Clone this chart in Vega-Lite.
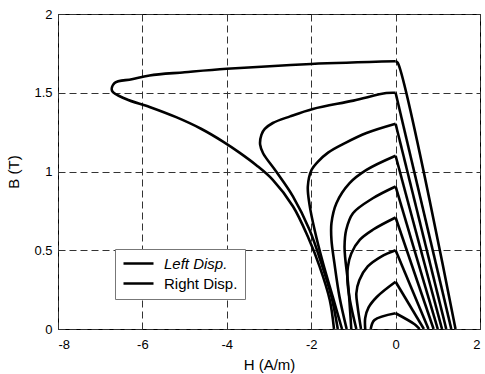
{
  "$schema": "https://vega.github.io/schema/vega-lite/v6.json",
  "width": 422,
  "height": 315,
  "autosize": "none",
  "padding": {"left": 58, "top": 14, "right": 5, "bottom": 45},
  "background": "white",
  "config": {
    "font": "Liberation Sans",
    "view": {"stroke": "black", "strokeWidth": 1},
    "axis": {
      "domain": false,
      "ticks": false,
      "grid": true,
      "gridColor": "#333333",
      "gridDash": [7, 4],
      "gridWidth": 1,
      "gridOpacity": 1,
      "labelFont": "Liberation Sans",
      "labelFontSize": 13,
      "labelColor": "black",
      "titleFont": "Liberation Sans",
      "titleFontSize": 15,
      "titleFontWeight": "normal",
      "titleColor": "black"
    }
  },
  "data": {
    "values": [
      {"c": 1, "s": "Left Disp.", "o": 1, "h": -0.59, "b": 0},
      {"c": 1, "s": "Left Disp.", "o": 2, "h": -0.5, "b": 0.057},
      {"c": 1, "s": "Left Disp.", "o": 3, "h": 0, "b": 0.1},
      {"c": 1, "s": "Right Disp.", "o": 1, "h": 0, "b": 0.1},
      {"c": 1, "s": "Right Disp.", "o": 2, "h": 0.45, "b": 0.03},
      {"c": 1, "s": "Right Disp.", "o": 3, "h": 0.57, "b": 0},

      {"c": 3, "s": "Left Disp.", "o": 1, "h": -0.72, "b": 0},
      {"c": 3, "s": "Left Disp.", "o": 2, "h": -0.72, "b": 0.07},
      {"c": 3, "s": "Left Disp.", "o": 3, "h": -0.64, "b": 0.137},
      {"c": 3, "s": "Left Disp.", "o": 4, "h": -0.44, "b": 0.205},
      {"c": 3, "s": "Left Disp.", "o": 5, "h": 0, "b": 0.3},
      {"c": 3, "s": "Right Disp.", "o": 1, "h": 0, "b": 0.3},
      {"c": 3, "s": "Right Disp.", "o": 2, "h": 0.67, "b": 0},

      {"c": 5, "s": "Left Disp.", "o": 1, "h": -0.82, "b": 0},
      {"c": 5, "s": "Left Disp.", "o": 2, "h": -0.9, "b": 0.142},
      {"c": 5, "s": "Left Disp.", "o": 3, "h": -0.93, "b": 0.227},
      {"c": 5, "s": "Left Disp.", "o": 4, "h": -0.86, "b": 0.31},
      {"c": 5, "s": "Left Disp.", "o": 5, "h": -0.66, "b": 0.397},
      {"c": 5, "s": "Left Disp.", "o": 6, "h": -0.34, "b": 0.46},
      {"c": 5, "s": "Left Disp.", "o": 7, "h": 0, "b": 0.5},
      {"c": 5, "s": "Right Disp.", "o": 1, "h": 0, "b": 0.5},
      {"c": 5, "s": "Right Disp.", "o": 2, "h": 0.78, "b": 0},

      {"c": 7, "s": "Left Disp.", "o": 1, "h": -0.93, "b": 0},
      {"c": 7, "s": "Left Disp.", "o": 2, "h": -1.08, "b": 0.18},
      {"c": 7, "s": "Left Disp.", "o": 3, "h": -1.14, "b": 0.3},
      {"c": 7, "s": "Left Disp.", "o": 4, "h": -1.13, "b": 0.396},
      {"c": 7, "s": "Left Disp.", "o": 5, "h": -1.05, "b": 0.48},
      {"c": 7, "s": "Left Disp.", "o": 6, "h": -0.85, "b": 0.566},
      {"c": 7, "s": "Left Disp.", "o": 7, "h": -0.54, "b": 0.63},
      {"c": 7, "s": "Left Disp.", "o": 8, "h": 0, "b": 0.708},
      {"c": 7, "s": "Right Disp.", "o": 1, "h": 0, "b": 0.708},
      {"c": 7, "s": "Right Disp.", "o": 2, "h": 0.9, "b": 0},

      {"c": 9, "s": "Left Disp.", "o": 1, "h": -1.05, "b": 0},
      {"c": 9, "s": "Left Disp.", "o": 2, "h": -1.13, "b": 0.3},
      {"c": 9, "s": "Left Disp.", "o": 3, "h": -1.19, "b": 0.44},
      {"c": 9, "s": "Left Disp.", "o": 4, "h": -1.21, "b": 0.523},
      {"c": 9, "s": "Left Disp.", "o": 5, "h": -1.17, "b": 0.63},
      {"c": 9, "s": "Left Disp.", "o": 6, "h": -1.01, "b": 0.735},
      {"c": 9, "s": "Left Disp.", "o": 7, "h": -0.54, "b": 0.83},
      {"c": 9, "s": "Left Disp.", "o": 8, "h": 0, "b": 0.905},
      {"c": 9, "s": "Right Disp.", "o": 1, "h": 0, "b": 0.905},
      {"c": 9, "s": "Right Disp.", "o": 2, "h": 1.0, "b": 0},

      {"c": 11, "s": "Left Disp.", "o": 1, "h": -1.16, "b": 0},
      {"c": 11, "s": "Left Disp.", "o": 2, "h": -1.33, "b": 0.205},
      {"c": 11, "s": "Left Disp.", "o": 3, "h": -1.45, "b": 0.418},
      {"c": 11, "s": "Left Disp.", "o": 4, "h": -1.52, "b": 0.566},
      {"c": 11, "s": "Left Disp.", "o": 5, "h": -1.52, "b": 0.672},
      {"c": 11, "s": "Left Disp.", "o": 6, "h": -1.4, "b": 0.8},
      {"c": 11, "s": "Left Disp.", "o": 7, "h": -1.09, "b": 0.926},
      {"c": 11, "s": "Left Disp.", "o": 8, "h": -0.69, "b": 1.01},
      {"c": 11, "s": "Left Disp.", "o": 9, "h": 0, "b": 1.1},
      {"c": 11, "s": "Right Disp.", "o": 1, "h": 0, "b": 1.1},
      {"c": 11, "s": "Right Disp.", "o": 2, "h": 1.1, "b": 0},

      {"c": 13, "s": "Left Disp.", "o": 1, "h": -1.27, "b": 0},
      {"c": 13, "s": "Left Disp.", "o": 2, "h": -1.49, "b": 0.205},
      {"c": 13, "s": "Left Disp.", "o": 3, "h": -1.72, "b": 0.418},
      {"c": 13, "s": "Left Disp.", "o": 4, "h": -1.92, "b": 0.63},
      {"c": 13, "s": "Left Disp.", "o": 5, "h": -2.04, "b": 0.79},
      {"c": 13, "s": "Left Disp.", "o": 6, "h": -2.08, "b": 0.905},
      {"c": 13, "s": "Left Disp.", "o": 7, "h": -1.99, "b": 1.011},
      {"c": 13, "s": "Left Disp.", "o": 8, "h": -1.85, "b": 1.06},
      {"c": 13, "s": "Left Disp.", "o": 9, "h": -1.6, "b": 1.12},
      {"c": 13, "s": "Left Disp.", "o": 10, "h": -1.2, "b": 1.18},
      {"c": 13, "s": "Left Disp.", "o": 11, "h": -0.69, "b": 1.244},
      {"c": 13, "s": "Left Disp.", "o": 12, "h": 0, "b": 1.303},
      {"c": 13, "s": "Right Disp.", "o": 1, "h": 0, "b": 1.303},
      {"c": 13, "s": "Right Disp.", "o": 2, "h": 1.2, "b": 0},

      {"c": 15, "s": "Left Disp.", "o": 1, "h": -1.37, "b": 0},
      {"c": 15, "s": "Left Disp.", "o": 2, "h": -1.52, "b": 0.205},
      {"c": 15, "s": "Left Disp.", "o": 3, "h": -1.76, "b": 0.418},
      {"c": 15, "s": "Left Disp.", "o": 4, "h": -2.04, "b": 0.63},
      {"c": 15, "s": "Left Disp.", "o": 5, "h": -2.43, "b": 0.841},
      {"c": 15, "s": "Left Disp.", "o": 6, "h": -2.83, "b": 1.0},
      {"c": 15, "s": "Left Disp.", "o": 7, "h": -3.14, "b": 1.116},
      {"c": 15, "s": "Left Disp.", "o": 8, "h": -3.21, "b": 1.17},
      {"c": 15, "s": "Left Disp.", "o": 9, "h": -3.18, "b": 1.233},
      {"c": 15, "s": "Left Disp.", "o": 10, "h": -3.1, "b": 1.27},
      {"c": 15, "s": "Left Disp.", "o": 11, "h": -2.91, "b": 1.308},
      {"c": 15, "s": "Left Disp.", "o": 12, "h": -2.5, "b": 1.35},
      {"c": 15, "s": "Left Disp.", "o": 13, "h": -1.96, "b": 1.397},
      {"c": 15, "s": "Left Disp.", "o": 14, "h": -1.0, "b": 1.45},
      {"c": 15, "s": "Left Disp.", "o": 15, "h": -0.22, "b": 1.498},
      {"c": 15, "s": "Left Disp.", "o": 16, "h": 0, "b": 1.5},
      {"c": 15, "s": "Right Disp.", "o": 1, "h": 0, "b": 1.5},
      {"c": 15, "s": "Right Disp.", "o": 2, "h": 1.32, "b": 0},

      {"c": 17, "s": "Left Disp.", "o": 1, "h": -1.46, "b": 0},
      {"c": 17, "s": "Left Disp.", "o": 2, "h": -1.56, "b": 0.184},
      {"c": 17, "s": "Left Disp.", "o": 3, "h": -1.8, "b": 0.396},
      {"c": 17, "s": "Left Disp.", "o": 4, "h": -2.08, "b": 0.587},
      {"c": 17, "s": "Left Disp.", "o": 5, "h": -2.43, "b": 0.778},
      {"c": 17, "s": "Left Disp.", "o": 6, "h": -2.91, "b": 0.947},
      {"c": 17, "s": "Left Disp.", "o": 7, "h": -3.3, "b": 1.04},
      {"c": 17, "s": "Left Disp.", "o": 8, "h": -3.7, "b": 1.12},
      {"c": 17, "s": "Left Disp.", "o": 9, "h": -4.09, "b": 1.19},
      {"c": 17, "s": "Left Disp.", "o": 10, "h": -4.6, "b": 1.27},
      {"c": 17, "s": "Left Disp.", "o": 11, "h": -5.2, "b": 1.345},
      {"c": 17, "s": "Left Disp.", "o": 12, "h": -5.83, "b": 1.41},
      {"c": 17, "s": "Left Disp.", "o": 13, "h": -6.39, "b": 1.46},
      {"c": 17, "s": "Left Disp.", "o": 14, "h": -6.72, "b": 1.513},
      {"c": 17, "s": "Left Disp.", "o": 15, "h": -6.66, "b": 1.562},
      {"c": 17, "s": "Left Disp.", "o": 16, "h": -6.25, "b": 1.586},
      {"c": 17, "s": "Left Disp.", "o": 17, "h": -5.83, "b": 1.61},
      {"c": 17, "s": "Left Disp.", "o": 18, "h": -5.0, "b": 1.63},
      {"c": 17, "s": "Left Disp.", "o": 19, "h": -4.0, "b": 1.652},
      {"c": 17, "s": "Left Disp.", "o": 20, "h": -2.0, "b": 1.683},
      {"c": 17, "s": "Left Disp.", "o": 21, "h": 0, "b": 1.7},
      {"c": 17, "s": "Right Disp.", "o": 1, "h": 0, "b": 1.7},
      {"c": 17, "s": "Right Disp.", "o": 2, "h": 0.05, "b": 1.69},
      {"c": 17, "s": "Right Disp.", "o": 3, "h": 1.42, "b": 0}
    ]
  },
  "mark": {"type": "line", "strokeWidth": 2.6, "clip": true, "strokeJoin": "round", "interpolate": "catmull-rom"},
  "encoding": {
    "x": {
      "field": "h",
      "type": "quantitative",
      "scale": {"domain": [-8, 2], "nice": false, "zero": false},
      "axis": {"title": "H (A/m)", "values": [-8, -6, -4, -2, 0, 2], "labelExpr": "'' + datum.value", "labelPadding": 9, "titlePadding": 6}
    },
    "y": {
      "field": "b",
      "type": "quantitative",
      "scale": {"domain": [0, 2], "nice": false},
      "axis": {"title": "B (T)", "values": [0, 0.5, 1, 1.5, 2], "labelExpr": "'' + datum.value", "labelPadding": 6, "titlePadding": 12}
    },
    "detail": {"field": "c", "type": "nominal"},
    "order": {"field": "o", "type": "quantitative"},
    "color": {
      "field": "s",
      "type": "nominal",
      "scale": {"domain": ["Left Disp.", "Right Disp."], "range": ["black", "black"]},
      "legend": {
        "title": null,
        "orient": "none",
        "legendX": 57,
        "legendY": 235,
        "strokeColor": "#777777",
        "fillColor": "white",
        "padding": 7,
        "symbolType": "stroke",
        "symbolSize": 900,
        "symbolStrokeWidth": 2.6,
        "clipHeight": 15,
        "labelFont": "Liberation Sans",
        "labelFontSize": 15,
        "labelColor": "black",
        "labelOffset": 9,
        "rowPadding": 4,
        "encode": {
          "labels": {
            "update": {
              "fontStyle": {"signal": "datum.label == 'Left Disp.' ? 'italic' : 'normal'"}
            }
          }
        }
      }
    }
  }
}
